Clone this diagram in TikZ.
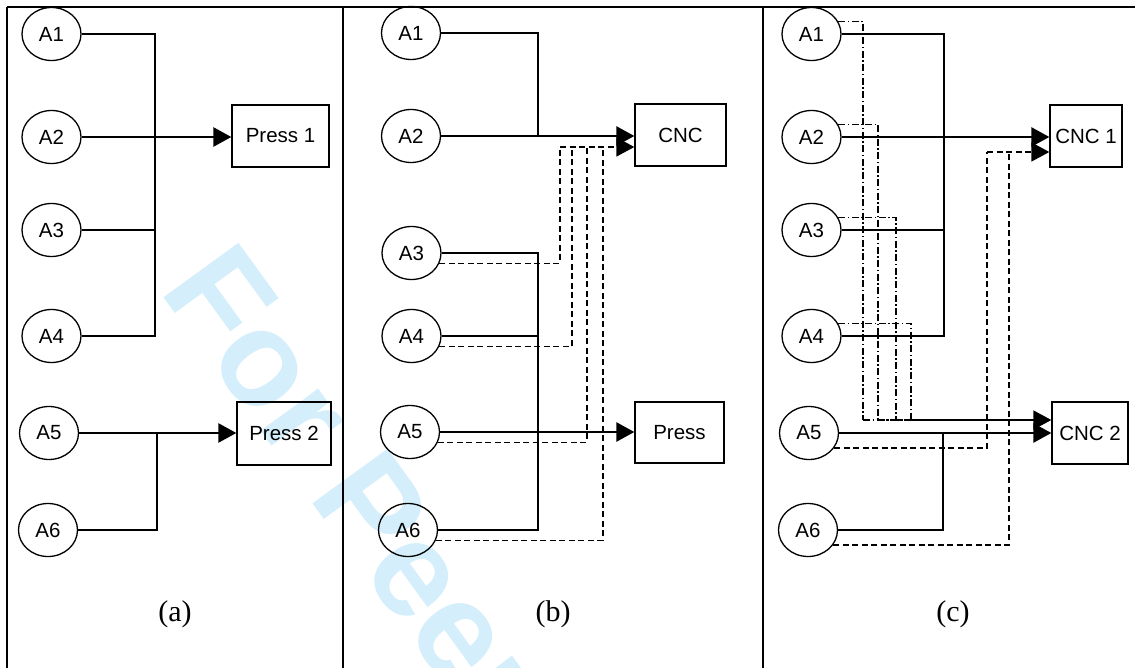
\documentclass[tikz,border=0pt]{standalone}
\usepackage{fontspec}
\setmainfont{Liberation Sans}
\newfontfamily\seriffont{Liberation Serif}
\usetikzlibrary{arrows.meta,shapes.geometric}
\definecolor{wm}{RGB}{212,239,251}
\begin{document}
\begin{tikzpicture}[x=1pt,y=-1pt,
  every node/.style={font=\fontsize{20.5}{24}\selectfont},
  circ/.style={draw,ellipse,inner sep=0pt,minimum width=59pt,minimum height=53pt,line width=1.3pt},
  box/.style={draw,rectangle,inner sep=0pt,line width=1.3pt},
  ln/.style={line width=1.3pt},
  thk/.style={line width=2.6pt},
  arr/.style={-{Triangle[length=18pt,width=19pt]}},
  dsh/.style={line width=1.3pt,dash pattern=on 6pt off 3.5pt},
  dshdot/.style={line width=1.3pt,dash pattern=on 7pt off 2.5pt on 1.5pt off 2.5pt},
  frame/.style={line width=2.5pt},
  lab/.style={font=\seriffont\fontsize{30}{36}\selectfont}
]
\path[use as bounding box] (0,0) rectangle (1135,668);
\clip (0,0) rectangle (1135,668);
% watermark
\node[rotate=-54,anchor=base west,inner sep=0pt,text=wm,font=\bfseries\fontsize{135}{135}\selectfont] (wmk) at (158,290) {For Peer Review};
% frame
\coordinate (f0) at (7,7);
\draw[frame] (f0) -- (1135,7);
\draw[frame] (7,7) -- (7,668);
\draw[frame] (343,7) -- (343,668);
\draw[frame] (763,7) -- (763,668);
% ---------- panel (a)
\node[circ] (a1) at (51.5,34) {A1};
\node[circ] (a2) at (51.5,137) {A2};
\node[circ] (a3) at (51.5,230) {A3};
\node[circ] (a4) at (51.5,336) {A4};
\node[circ] (a5) at (49,433) {A5};
\node[circ] (a6) at (48,530) {A6};
\node[box,minimum width=97pt,minimum height=62pt] (pa1) at (280.5,136) {Press 1};
\node[box,minimum width=94pt,minimum height=63pt] (pa2) at (284,433.5) {Press 2};
\coordinate (ja) at (155,137);
\coordinate (jb) at (157,433);
\draw[ln] (a1.east) -| (ja);
\draw[ln] (a4.east) -| (ja);
\draw[ln] (a3.east) -- (a3.east -| ja);
\draw[ln] (a2.east) -- (ja);
\draw[thk,arr] (ja) -- (ja -| pa1.west);
\draw[ln] (a6.east) -| (jb);
\draw[ln] (a5.east) -- (jb);
\draw[thk,arr] (jb) -- (jb -| pa2.west);
\node[lab] (la) at (175,614) {(a)};
% ---------- panel (b)
\node[circ] (b1) at (411,33) {A1};
\node[circ] (b2) at (411,136) {A2};
\node[circ] (b3) at (411.5,253) {A3};
\node[circ] (b4) at (411.5,336) {A4};
\node[circ] (b5) at (410,432) {A5};
\node[circ] (b6) at (408,530) {A6};
\node[box,minimum width=91pt,minimum height=62pt] (bcnc) at (680.5,135) {CNC};
\node[box,minimum width=89pt,minimum height=61pt] (bpress) at (679.5,432.5) {Press};
\coordinate (jb1) at (538,136);
\coordinate (jb2) at (538,432);
\draw[ln] (b1.east) -| (jb1);
\draw[ln] (b2.east) -- (jb1);
\draw[thk,arr] (jb1) -- (jb1 -| bcnc.west);
\draw[ln] (b3.east) -| (jb2);
\draw[ln] (b6.east) -| (jb2);
\draw[ln] (b4.east) -- (b4.east -| jb2);
\draw[ln] (b5.east) -- (jb2);
\draw[thk,arr] (jb2) -- (jb2 -| bpress.west);
\coordinate (db3) at (560,147);
\coordinate (db4) at (572,147);
\coordinate (db5) at (587,147);
\coordinate (db6) at (603,147);
\draw[dsh] (b3.-20) -| (db3);
\draw[dsh] (b4.-20) -| (db4);
\draw[dsh] (b5.-20) -| (db5);
\draw[dsh] (b6.-20) -| (db6);
\draw[dsh,arr] (db3) -- (db3 -| bcnc.west);
\node[lab] (lb) at (553,614) {(b)};
% ---------- panel (c)
\node[circ] (c1) at (811.5,34) {A1};
\node[circ] (c2) at (811.5,137) {A2};
\node[circ] (c3) at (811.5,230) {A3};
\node[circ] (c4) at (811.5,336) {A4};
\node[circ] (c5) at (809,433) {A5};
\node[circ] (c6) at (808,530) {A6};
\node[box,minimum width=72pt,minimum height=62pt] (ccnc1) at (1086,136) {CNC 1};
\node[box,minimum width=76pt,minimum height=62pt] (ccnc2) at (1090,433) {CNC 2};
\coordinate (jc1) at (944,137);
\coordinate (jc2) at (943,433);
\draw[ln] (c1.east) -| (jc1);
\draw[ln] (c4.east) -| (jc1);
\draw[ln] (c3.east) -- (c3.east -| jc1);
\draw[ln] (c2.east) -- (jc1);
\draw[thk,arr] (jc1) -- (jc1 -| ccnc1.west);
\draw[ln] (c6.east) -| (jc2);
\draw[ln] (c5.east) -- (jc2);
\draw[thk,arr] (jc2) -- (jc2 -| ccnc2.west);
\coordinate (dc5) at (987,152);
\coordinate (dc6) at (1009,152);
\draw[dsh] (c5.-31) -| (dc5);
\draw[dsh] (c6.-31) -| (dc6);
\draw[dsh,arr] (dc5) -- (dc5 -| ccnc1.west);
\coordinate (ec1) at (863,420);
\coordinate (ec2) at (878,420);
\coordinate (ec3) at (896,420);
\coordinate (ec4) at (911,420);
\draw[dshdot] (c1.25) -| (ec1);
\draw[dshdot] (c2.25) -| (ec2);
\draw[dshdot] (c3.25) -| (ec3);
\draw[dshdot] (c4.25) -| (ec4);
\draw[dshdot] (ec2) -- ([xshift=-8pt]ec2 -| ccnc2.west);
\draw[dshdot] (ec3) -- ([xshift=-8pt]ec3 -| ccnc2.west);
\draw[dshdot] (ec4) -- ([xshift=-8pt]ec4 -| ccnc2.west);
\draw[dshdot,arr] (ec1) -- (ec1 -| ccnc2.west);
\node[lab] (lc) at (953,614) {(c)};
\end{tikzpicture}
\end{document}
